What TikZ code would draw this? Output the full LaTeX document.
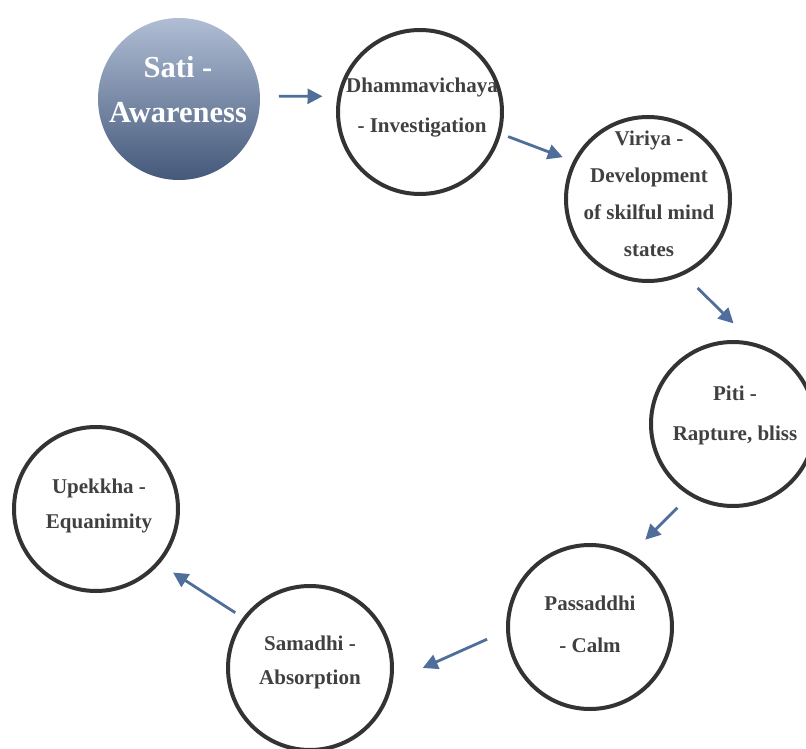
\documentclass[tikz,border=0pt]{standalone}
\usepackage{fontspec}
\setmainfont{Liberation Serif}
\usetikzlibrary{arrows.meta}

\definecolor{ringgrey}{HTML}{333333}
\definecolor{txtgrey}{HTML}{404040}
\definecolor{arrblue}{HTML}{4F6E9B}
\definecolor{satitop}{HTML}{B0BED4}
\definecolor{satibot}{HTML}{44587A}

\tikzset{
  ring/.style={circle, draw=ringgrey, line width=4pt, minimum size=164pt, inner sep=0pt, outer sep=0pt},
  txt/.style={align=center, text=txtgrey, font=\fontsize{21}{38}\selectfont\bfseries},
  arr/.style={-{Triangle[length=15pt,width=15pt]}, draw=arrblue, line width=2.8pt}
}

\begin{document}
\begin{tikzpicture}[x=1pt, y=-1pt]
  \useasboundingbox (0,0) rectangle (806,749);

  % circles
  \node[circle, minimum size=162pt, inner sep=0pt, outer sep=0pt,
        top color=satitop, bottom color=satibot] (sati) at (179,99) {};
  \node[ring] (dham) at (420,112) {};
  \node[ring] (vir)  at (648,199) {};
  \node[ring] (piti) at (733,424) {};
  \node[ring] (pas)  at (590,627) {};
  \node[ring] (sam)  at (310,668) {};
  \node[ring] (upe)  at (96,509) {};

  % texts
  \node[txt, text=white, font=\fontsize{30.5}{45}\selectfont\bfseries] (satitxt) at (178,90) {Sati -\\Awareness};
  \node[txt, font=\fontsize{21}{40}\selectfont\bfseries] (dhamtxt) at (422,108) {Dhammavichaya\\- Investigation};
  \node[txt, font=\fontsize{21}{37}\selectfont\bfseries] (virtxt) at (649,194) {Viriya -\\Development\\of skilful mind\\states};
  \node[txt, font=\fontsize{21}{40}\selectfont\bfseries] (pititxt) at (735,415) {Piti -\\Rapture, bliss};
  \node[txt, font=\fontsize{21}{42}\selectfont\bfseries] (pastxt) at (590,624) {Passaddhi\\- Calm};
  \node[txt, font=\fontsize{21}{34}\selectfont\bfseries] (samtxt) at (310,662) {Samadhi -\\Absorption};
  \node[txt, font=\fontsize{21}{35}\selectfont\bfseries] (upetxt) at (99,506) {Upekkha -\\Equanimity};

  % arrows
  \draw[arr, shorten <=19pt, shorten >=17pt] (sati.2) -- (dham.169);
  \draw[arr, shorten <=9.5pt, shorten >=13pt] (dham.-15) -- (vir.153);
  \draw[arr, shorten <=21pt, shorten >=31pt] (vir.-65) -- (piti.74);
  \draw[arr, shorten <=19pt, shorten >=22pt] (piti.-121) -- (pas.61);
  \draw[arr, shorten <=23pt, shorten >=35pt] (pas.182) -- (sam.-10);
  \draw[arr, shorten <=11pt, shorten >=18pt] (sam.143) -- (upe.-41);
\end{tikzpicture}
\end{document}
